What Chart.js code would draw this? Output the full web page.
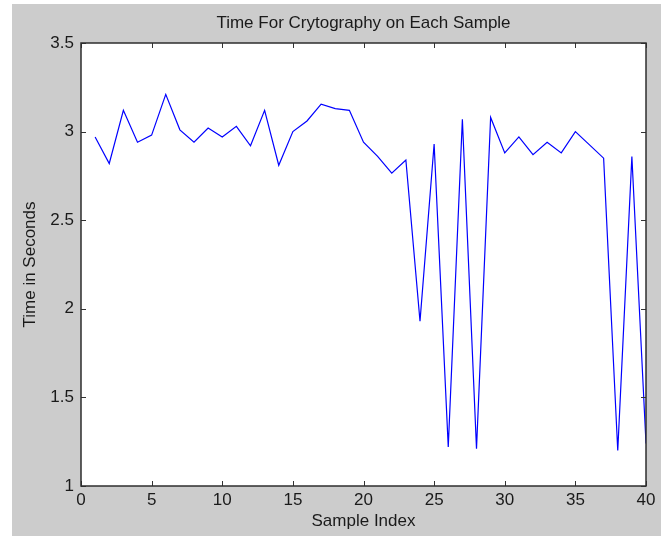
<!DOCTYPE html>
<html>
<head>
<meta charset="utf-8">
<title>Time For Crytography on Each Sample</title>
<script src="https://cdn.jsdelivr.net/npm/chart.js@4"></script>
<style>
  html, body { margin: 0; padding: 0; background: #fff; }
  #wrap { width: 668px; height: 536px; }
</style>
</head>
<body>
<div id="wrap"><canvas id="myChart" width="668" height="536"></canvas></div>
<script>
// sample index (x) and time in seconds (y)
const sampleIndex = [1, 2, 3, 4, 5, 6, 7, 8, 9, 10,
  11, 12, 13, 14, 15, 16, 17, 18, 19, 20,
  21, 22, 23, 24, 25, 26, 27, 28, 29, 30,
  31, 32, 33, 34, 35, 36, 37, 38, 39, 40];
const timeSeconds = [2.97, 2.82, 3.12, 2.94, 2.98, 3.21, 3.01, 2.94, 3.02, 2.97,
  3.03, 2.92, 3.12, 2.81, 3.0, 3.06, 3.155, 3.13, 3.12, 2.94,
  2.86, 2.765, 2.84, 1.93, 2.93, 1.22, 3.07, 1.21, 3.08, 2.88,
  2.97, 2.87, 2.94, 2.88, 3.0, 2.925, 2.85, 1.2, 2.86, 1.24];
const xTicks = [0, 5, 10, 15, 20, 25, 30, 35, 40];
const yTicks = [1, 1.5, 2, 2.5, 3, 3.5];

const titleText = "Time For Crytography on Each Sample";
const FONT = "Liberation Sans, Arial, Helvetica, sans-serif";
const TEXT = "#1a1a1a";

// gray figure background, title, box and inward ticks like the original plot
const matlabLook = {
  id: "matlabLook",
  beforeDraw(chart) {
    const c = chart.ctx;
    c.save();
    c.fillStyle = "#cccccc";
    c.fillRect(12, 4, 649, 532);
    const a = chart.chartArea;
    c.fillStyle = "#ffffff";
    c.fillRect(a.left, a.top, a.right - a.left, a.bottom - a.top);
    c.restore();
  },
  afterDraw(chart) {
    const c = chart.ctx;
    const a = chart.chartArea;
    const xs = chart.scales.x, ys = chart.scales.y;
    c.save();
    c.strokeStyle = "#333333";
    c.lineWidth = 1;
    c.beginPath();
    xTicks.forEach(v => {
      const px = Math.round(xs.getPixelForValue(v)) + 0.5;
      c.moveTo(px, a.bottom); c.lineTo(px, a.bottom - 5);
      c.moveTo(px, a.top); c.lineTo(px, a.top + 5);
    });
    yTicks.forEach(v => {
      const py = Math.round(ys.getPixelForValue(v)) + 0.5;
      c.moveTo(a.left, py); c.lineTo(a.left + 5, py);
      c.moveTo(a.right, py); c.lineTo(a.right - 5, py);
    });
    c.stroke();
    c.lineWidth = 1.5;
    c.strokeStyle = "#2e2e2e";
    c.strokeRect(a.left, a.top, a.right - a.left, a.bottom - a.top);

    c.fillStyle = TEXT;
    c.font = "17px " + FONT;
    c.textAlign = "center";
    c.textBaseline = "middle";
    c.fillText(titleText, (a.left + a.right) / 2, 23);
    c.restore();
  }
};

const ctx = document.getElementById("myChart");
new Chart(ctx, {
  type: "line",
  data: {
    datasets: [
      {
        label: "Time",
        data: sampleIndex.map((x, i) => ({ x: x, y: timeSeconds[i] })),
        borderColor: "#0000ff",
        borderWidth: 1.2,
        pointRadius: 0,
        tension: 0,
        fill: false,
      },
    ],
  },
  options: {
    responsive: false,
    animation: false,
    layout: { padding: { left: 12, right: 22, top: 43, bottom: 0 } },
    plugins: {
      legend: { display: false },
      title: { display: false },
      tooltip: { enabled: false },
    },
    scales: {
      x: {
        type: "linear",
        min: 0,
        max: 40,
        afterFit: s => { s.height = 50; },
        afterBuildTicks: s => { s.ticks = xTicks.map(v => ({ value: v })); },
        grid: { display: false, drawTicks: false },
        border: { display: false },
        ticks: { color: TEXT, font: { family: FONT, size: 17 }, padding: 4, maxRotation: 0, callback: v => String(v) },
        title: { display: true, text: "Sample Index", color: TEXT, font: { family: FONT, size: 17 }, padding: { top: 0, bottom: 4 } },
      },
      y: {
        min: 1,
        max: 3.5,
        afterFit: s => { s.width = 69; },
        afterBuildTicks: s => { s.ticks = yTicks.map(v => ({ value: v })); },
        grid: { display: false, drawTicks: false },
        border: { display: false },
        ticks: { color: TEXT, font: { family: FONT, size: 17 }, padding: 7, callback: v => String(v) },
        title: { display: true, text: "Time in Seconds", color: TEXT, font: { family: FONT, size: 17 }, padding: { top: 8, bottom: 0 } },
      },
    },
  },
  plugins: [matlabLook],
});
</script>
</body>
</html>
